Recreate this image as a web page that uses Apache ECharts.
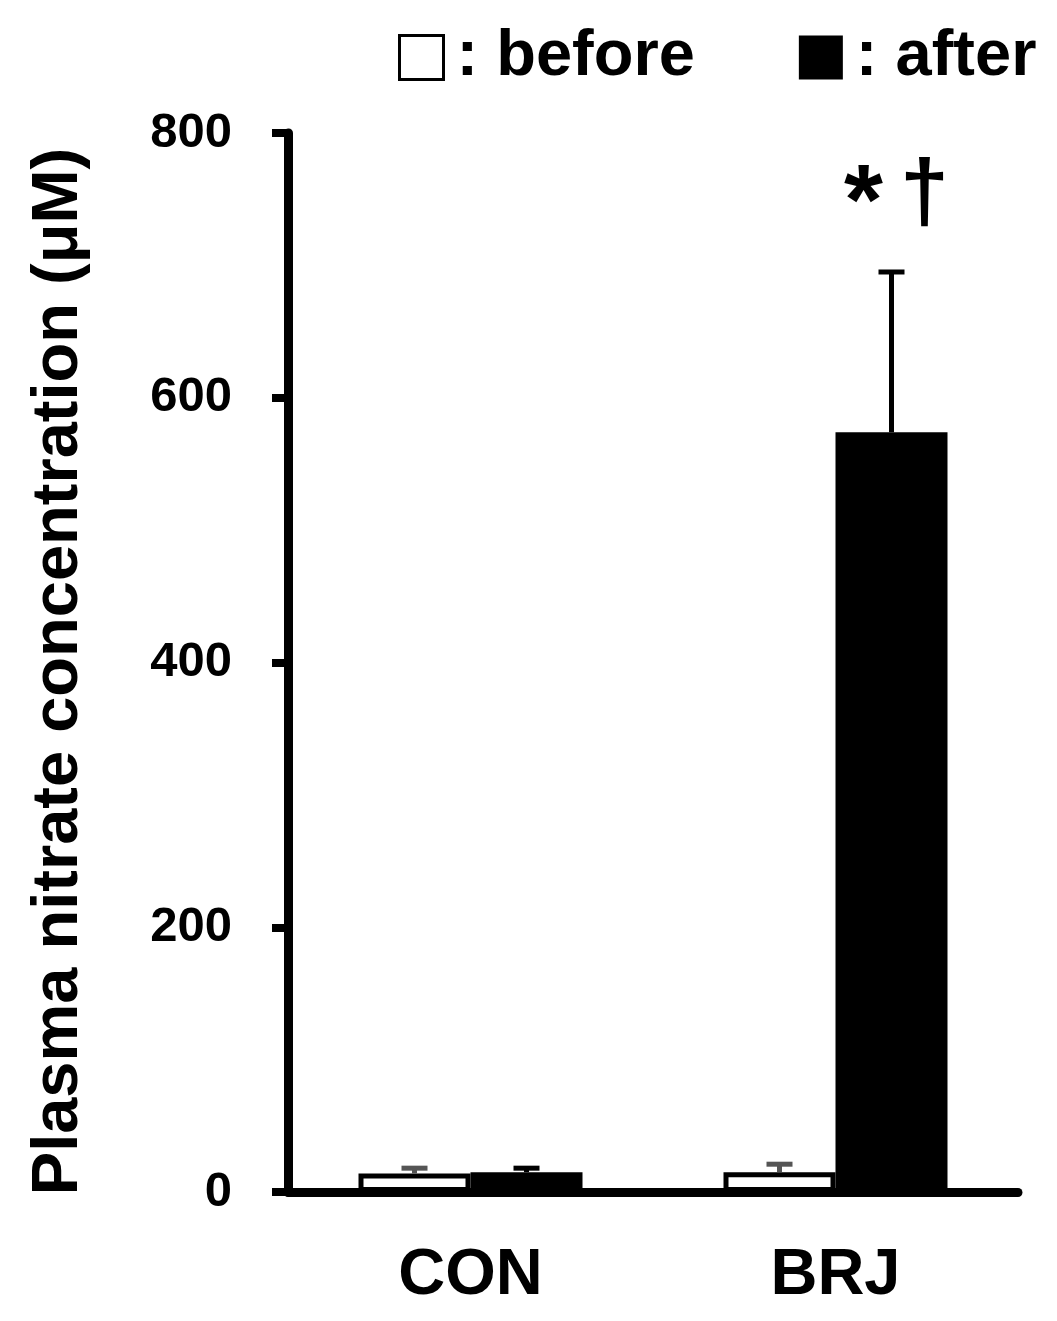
<!DOCTYPE html>
<html>
<head>
<meta charset="utf-8">
<script src="https://cdn.jsdelivr.net/npm/echarts@6/dist/echarts.min.js"></script>
<style>
html,body{margin:0;padding:0;background:#fff;}
#c{width:1057px;height:1321px;}
</style>
</head>
<body>
<div id="c"></div>
<script>
var categories = ['CON', 'BRJ'];
var beforeValues = [14, 15];
var beforeErrors = [4, 6];
var afterValues = [15, 574];
var afterErrors = [3, 121];
var yTicks = [0, 200, 400, 600, 800];
var seriesNames = ['before', 'after'];
var annotations = [['', ''], ['*', '†']]; // per category for 'after'

var FONT = '"Liberation Sans", Arial, sans-serif';
var BAR_W = 112;

var chart = echarts.init(document.getElementById('c'), null, {renderer: 'canvas'});

var errData = [];
for (var i = 0; i < categories.length; i++) {
  errData.push([i, beforeValues[i], beforeErrors[i], 0]);
  errData.push([i, afterValues[i], afterErrors[i], 1]);
}

function renderErr(params, api) {
  var ci = api.value(0), v = api.value(1), e = api.value(2), s = api.value(3);
  var base = api.coord([ci, v]);
  var top = api.coord([ci, v + e]);
  var x = base[0] + (s === 0 ? -BAR_W / 2 : BAR_W / 2);
  var col = s === 0 ? '#555' : '#000';
  var children = [
    {type: 'line', shape: {x1: x, y1: base[1], x2: x, y2: top[1]}, style: {stroke: col, lineWidth: 5}},
    {type: 'line', shape: {x1: x - 13, y1: top[1], x2: x + 13, y2: top[1]}, style: {stroke: col, lineWidth: 5}}
  ];
  if (s === 1) {
    var ann = annotations[ci];
    if (ann[0]) children.push({type: 'text', style: {text: ann[0], x: x - 28, y: top[1] - 66, align: 'center', verticalAlign: 'middle', font: 'bold 100px ' + FONT, fill: '#000'}});
    if (ann[1]) children.push({type: 'text', style: {text: ann[1], x: x + 33, y: top[1] - 76, align: 'center', verticalAlign: 'middle', font: 'bold 88px ' + FONT, fill: '#000'}});
  }
  return {type: 'group', children: children};
}

var option = {
  backgroundColor: '#fff',
  animation: false,
  grid: {left: 288, right: 39, top: 133, bottom: 129, containLabel: false},
  legend: {
    left: 393, top: 20,
    itemWidth: 44, itemHeight: 44, itemGap: 104,
    icon: 'rect',
    formatter: ': {name}',
    textStyle: {fontFamily: FONT, fontWeight: 'bold', fontSize: 65, color: '#000', padding: [0, 0, 0, 8]},
    data: [
      {name: 'before', itemStyle: {color: '#fff', borderColor: '#000', borderWidth: 3}},
      {name: 'after', itemStyle: {color: '#000', borderColor: '#000', borderWidth: 0}}
    ]
  },
  xAxis: {
    type: 'category',
    data: categories,
    axisLine: {lineStyle: {color: '#000', width: 9}},
    axisTick: {show: false},
    axisLabel: {fontFamily: FONT, fontWeight: 'bold', fontSize: 65, color: '#000', margin: 52}
  },
  yAxis: {
    type: 'value',
    min: 0, max: 800, interval: 200,
    name: 'Plasma nitrate concentration (μM)',
    nameLocation: 'middle',
    nameGap: 196,
    nameTextStyle: {fontFamily: FONT, fontWeight: 'bold', fontSize: 65, color: '#000', padding: [0, 18, 0, 0]},
    axisLine: {show: true, lineStyle: {color: '#000', width: 9}},
    axisTick: {show: true, length: 16, lineStyle: {color: '#000', width: 8}},
    splitLine: {show: false},
    axisLabel: {fontFamily: FONT, fontWeight: 'bold', fontSize: 49, color: '#000', margin: 56,
      formatter: function (v) { return yTicks.indexOf(v) >= 0 ? String(v) : ''; }}
  },
  series: [
    {name: seriesNames[0], type: 'bar', data: beforeValues, barWidth: BAR_W, barGap: '0%',
      itemStyle: {color: '#fff', borderColor: '#000', borderWidth: 5}, z: 2},
    {name: seriesNames[1], type: 'bar', data: afterValues, barWidth: BAR_W, barGap: '0%',
      itemStyle: {color: '#000', borderColor: '#000', borderWidth: 0}, z: 2},
    {type: 'custom', renderItem: renderErr, data: errData, z: 3, encode: {x: 0, y: 1}, silent: true}
  ]
};
chart.setOption(option);
</script>
</body>
</html>
